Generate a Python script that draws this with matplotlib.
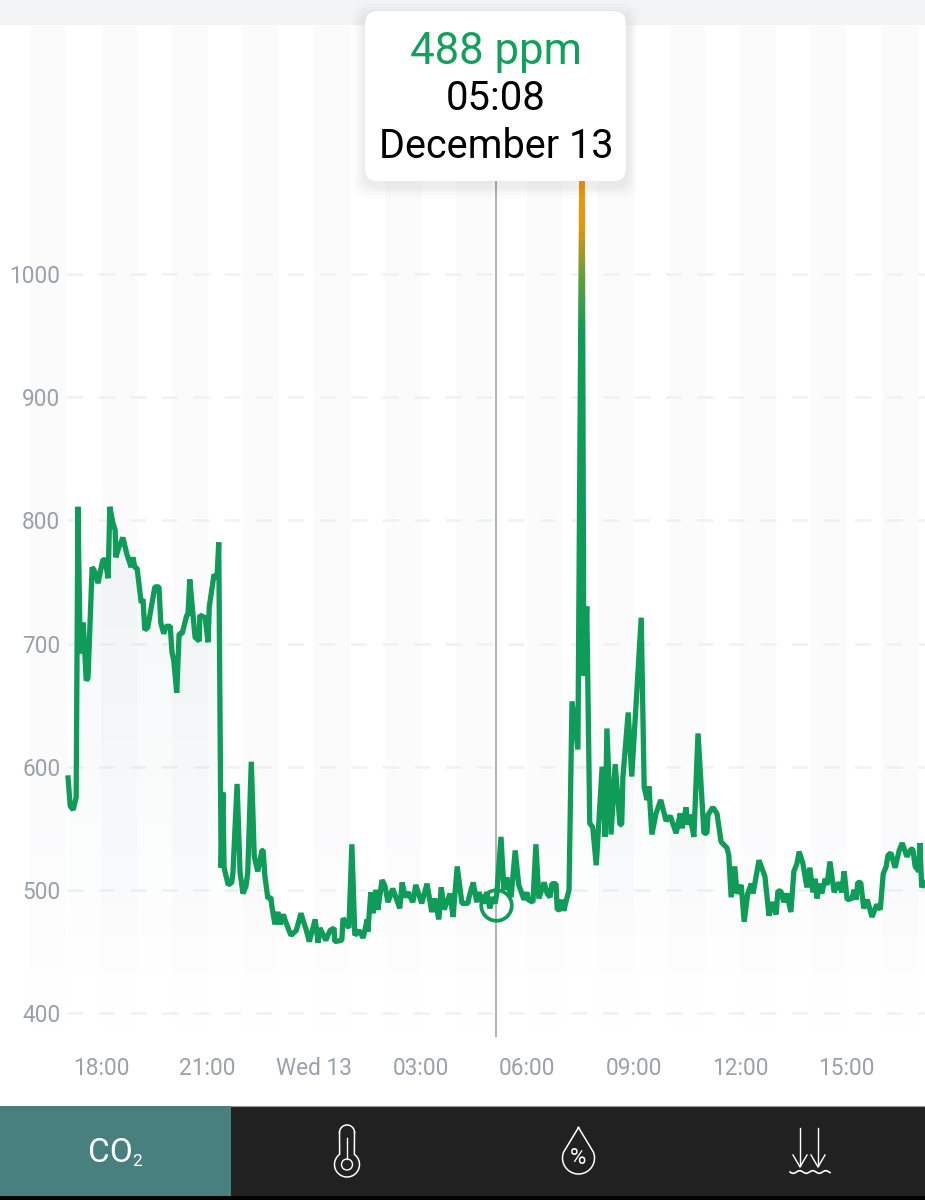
import numpy as np
import matplotlib
matplotlib.use("Agg")
import matplotlib.pyplot as plt
from matplotlib.patches import FancyBboxPatch, Rectangle, Circle
from matplotlib.colors import LinearSegmentedColormap

plt.rcParams['font.family'] = ['Roboto', 'DejaVu Sans']

# minutes after 18:00 and CO2 readings
evening_min = [-56, -52, -47, -42, -39, -35, -30, -25, -22, -15, -10, -5, 3, 7, 12, 15, 20, 24, 25, 30, 37, 44, 51, 54, 57, 61,
               68, 71, 74, 79, 91, 98, 101, 106, 110, 117, 120, 123, 128, 132, 137, 145, 147, 150, 159, 166, 167, 176, 181, 183, 191, 196, 199]
evening_ppm = [593, 568, 565, 575, 811, 692, 717, 670, 672, 762, 758, 749, 768, 768, 753, 811, 798, 792, 770, 778, 786, 772, 762, 770, 762, 761,
               733, 736, 711, 713, 746, 746, 717, 708, 714, 714, 693, 686, 660, 708, 708, 723, 723, 752, 705, 702, 723, 721, 701, 730, 756, 753, 782]

night_min = [203, 206, 208, 215, 221, 223, 230, 235, 240, 245, 248, 254, 259, 265, 272, 274, 277, 282, 287, 289, 294, 299, 303, 308, 313, 321,
             330, 338, 343, 346, 352, 362, 367, 370, 380, 387, 394, 395, 407, 409, 419, 424, 429, 436, 443, 450, 451, 456, 460, 465, 468,
             475, 480, 485, 493, 505, 509, 514, 519, 527, 532, 542, 551, 559, 564, 571, 575, 580, 590, 595, 602, 610, 620, 622, 629, 635,
             639, 646, 652, 657, 662, 666]
night_ppm = [518, 579, 518, 504, 506, 514, 586, 514, 497, 503, 514, 604, 527, 515, 532, 532, 511, 493, 494, 486, 472, 482, 472, 480, 473, 463,
             467, 481, 473, 469, 458, 476, 457, 469, 459, 467, 469, 458, 459, 477, 469, 537, 463, 467, 461, 476, 466, 498, 481, 500, 484,
             508, 503, 490, 501, 485, 506, 494, 498, 490, 504, 489, 505, 482, 493, 476, 502, 484, 497, 478, 519, 489, 489, 494, 506, 490,
             498, 489, 498, 485, 494, 489]

morning_min = [669, 676, 681, 686, 693, 700, 706, 715, 720, 722, 730, 735, 740, 749, 754, 759, 762, 769, 771, 776, 779, 782, 791, 796, 806, 813,
               816, 821, 826, 831, 837, 847, 852, 855, 862, 869, 877, 880, 882, 891, 897, 913, 918, 923, 926, 931, 938, 946, 955, 962, 972,
               979, 982, 989, 990, 995, 1002, 1009, 1019, 1024, 1026, 1034, 1041, 1048, 1058, 1061]
morning_ppm = [497, 543, 500, 510, 494, 532, 504, 492, 498, 492, 490, 537, 493, 506, 497, 494, 505, 505, 484, 484, 492, 483, 500, 653, 614, 1120,
               674, 730, 554, 551, 520, 600, 543, 631, 545, 602, 553, 553, 591, 644, 592, 721, 583, 573, 584, 545, 562, 573, 556, 560, 546,
               562, 550, 567, 553, 561, 543, 627, 546, 546, 561, 567, 562, 539, 534, 528]

day_min = [1065, 1071, 1075, 1082, 1087, 1093, 1099, 1102, 1112, 1122, 1129, 1134, 1141, 1144, 1149, 1154, 1159, 1166, 1171, 1176, 1180, 1186,
           1193, 1198, 1203, 1207, 1210, 1215, 1218, 1224, 1227, 1232, 1239, 1247, 1252, 1256, 1261, 1269, 1273, 1276, 1279, 1284, 1289, 1295,
           1303, 1311, 1317, 1322, 1327, 1330, 1335, 1342, 1349, 1354, 1362, 1369, 1372, 1376, 1382, 1384, 1387, 1393]
day_ppm = [494, 519, 497, 504, 474, 497, 505, 497, 524, 511, 479, 490, 480, 499, 499, 490, 497, 482, 515, 521, 531, 522,
           502, 518, 498, 509, 493, 505, 497, 509, 504, 523, 498, 506, 498, 515, 492, 493, 500, 492, 506, 506, 485, 492,
           478, 488, 484, 513, 519, 528, 530, 518, 532, 538, 527, 533, 533, 519, 515, 538, 502, 508]

x_ticks = [0, 180, 360, 540, 720, 900, 1080, 1260]
x_labels = ["18:00", "21:00", "Wed 13", "03:00", "06:00", "09:00", "12:00", "15:00"]
y_ticks = [400, 500, 600, 700, 800, 900, 1000]
cursor_min = 668
cursor_ppm = 488

minutes = np.array(evening_min + night_min + morning_min + day_min)
ppm = np.array(evening_ppm + night_ppm + morning_ppm + day_ppm)

GREEN = "#0f9b58"
GREY_TXT = "#9aa1aa"

fig = plt.figure(figsize=(9.25, 12), dpi=100, facecolor="white")
ax = fig.add_axes([0, 94 / 1200, 1, (1175 - 94) / 1200])
ax.set_xlim(-170.7, 1392.6)
ax.set_ylim(324.5, 1202.2)
for s in ax.spines.values():
    s.set_visible(False)

# hour stripes, fading out near the bottom of the plot
stripe = np.ones((256, 1, 4))
stripe[..., :3] = (0.93, 0.93, 0.96)
stripe[:, 0, 3] = np.r_[np.full(200, 0.20), np.linspace(0.20, 0.0, 56)]
for h in np.arange(-2, 26, 2):
    ax.imshow(stripe, extent=(h * 60, (h + 1) * 60, 381, 1203), origin="upper", aspect="auto", zorder=0)
ax.set_xlim(-170.7, 1392.6)
ax.set_ylim(324.5, 1202.2)

# dashed grid
ax.hlines(y_ticks, -57, 1393, color="#eff1f4", lw=1.8, linestyles=[(0, (6.4, 6.2))], zorder=1)

# soft gradient under the line
fill = ax.fill_between(minutes, ppm, 400, color="none", lw=0)
grad = np.zeros((256, 1, 4))
grad[..., :3] = (0.10, 0.42, 0.45)
grad[:, 0, 3] = np.linspace(0.075, 0.0, 256)
img = ax.imshow(grad, extent=(-170, 1393, 400, 1000), origin="upper", aspect="auto", zorder=1.5)
img.set_clip_path(fill.get_paths()[0], ax.transData)
ax.set_xlim(-170.7, 1392.6)
ax.set_ylim(324.5, 1202.2)

# cursor line
ax.plot([cursor_min, cursor_min], [381, 1090], color="#aeb5bd", lw=1.5, zorder=2)

# the line, green below 950 then fading to orange on the peak
line_kw = dict(lw=3.8, solid_joinstyle="bevel", solid_capstyle="butt", zorder=3)
main, = ax.plot(minutes, ppm, color=GREEN, **line_kw)
main.set_clip_path(Rectangle((-200, 300), 1700, 650, transform=ax.transData))
fade = LinearSegmentedColormap.from_list("co2", [GREEN, "#5f9f3c", "#e2960f", "#ee9a0a"])
for low in np.arange(950, 1130, 6):
    part, = ax.plot(minutes, ppm, color=fade((low - 950) / 130), **line_kw)
    part.set_clip_path(Rectangle((-200, low), 1700, 6.5, transform=ax.transData))

ax.plot([cursor_min], [cursor_ppm], marker="o", ms=22, mfc="none", mec=GREEN, mew=2.7, zorder=4)

ax.set_xticks(x_ticks)
ax.set_xticklabels(x_labels)
ax.set_yticks(y_ticks)
ax.tick_params(axis="x", length=0, pad=-35.5, labelsize=16.3, labelcolor=GREY_TXT)
ax.tick_params(axis="y", length=0, pad=-43.5, labelsize=16.3, labelcolor=GREY_TXT)

# app chrome on top, in pixel coordinates
ui = fig.add_axes([0, 0, 1, 1], zorder=5)
ui.set_xlim(0, 925)
ui.set_ylim(1200, 0)
ui.axis("off")
ui.patch.set_alpha(0)

ui.add_patch(Rectangle((0, 0), 925, 25, color="#f2f3f5", lw=0))

ui.add_patch(Rectangle((0, 1106), 925, 90, color="#212121", lw=0))
ui.add_patch(Rectangle((0, 1196), 925, 4, color="black", lw=0))
ui.add_patch(Rectangle((0, 1106), 231, 90, color="#47807f", lw=0))
ui.plot([231, 925], [1106, 1106], color="#9a9a9a", lw=0.8)
ui.text(110, 1153, "CO", color="white", fontsize=24, ha="center", va="center", fontweight="normal")
ui.text(137, 1161, "2", color="white", fontsize=12.5, ha="center", va="center", fontweight="normal")

# thermometer icon
ang = np.linspace(np.pi, 2 * np.pi, 30)
ui.plot(347 + 7.5 * np.cos(ang), 1132.5 + 7.5 * np.sin(ang), color="white", lw=1.1)
ang = np.linspace(-np.pi * 0.30, np.pi * 1.30, 60)
bx = 347 + 12.5 * np.cos(ang)
by = 1164.5 + 12.5 * np.sin(ang)
ui.plot(np.r_[354.5, bx, 339.5], np.r_[1132.5, by, 1132.5], color="white", lw=1.1)
ui.add_patch(Circle((347, 1164.5), 5.5, fc="none", ec="white", lw=1.0))
ui.plot([347, 347], [1138, 1159], color="white", lw=1.0)

# drop icon
ang = np.linspace(-np.pi * 0.12, np.pi * 1.12, 60)
dx = 578.5 + 16 * np.cos(ang)
dy = 1158 + 16 * np.sin(ang)
ui.plot(np.r_[578.5, dx, 578.5], np.r_[1127.5, dy, 1127.5], color="white", lw=1.1)
ui.text(578.5, 1159, "%", color="white", fontsize=16, ha="center", va="center")

# ground water icon
for ax_x in (800, 818):
    ui.plot([ax_x, ax_x], [1128, 1166], color="white", lw=1.0)
    ui.plot([ax_x - 7, ax_x, ax_x + 7], [1155, 1167, 1155], color="white", lw=1.0)
wx = np.linspace(790, 830, 80)
ui.plot(wx, 1172 + 1.3 * np.sin((wx - 790) * 2 * np.pi / 13), color="white", lw=1.2)

# tooltip with shadow
for grow, alpha in ((12, 0.012), (9, 0.015), (6, 0.02), (3, 0.025)):
    ui.add_patch(FancyBboxPatch((365 - grow + 13, 16 - grow + 13), 261 + 2 * grow - 26, 170 + 2 * grow - 26,
                                boxstyle="round,pad=13,rounding_size=15", fc="black", ec="none", alpha=alpha))
ui.add_patch(FancyBboxPatch((378, 24), 235, 144, boxstyle="round,pad=13,rounding_size=13", fc="white", ec="none"))
ui.text(496, 52, f"{cursor_ppm} ppm", color="#12a05c", fontsize=31.5, ha="center", va="center")
ui.text(496, 99, "05:08", color="black", fontsize=28.8, ha="center", va="center")
ui.text(496, 146, "December 13", color="black", fontsize=28.5, ha="center", va="center")

fig.savefig("out.png", dpi=100)
